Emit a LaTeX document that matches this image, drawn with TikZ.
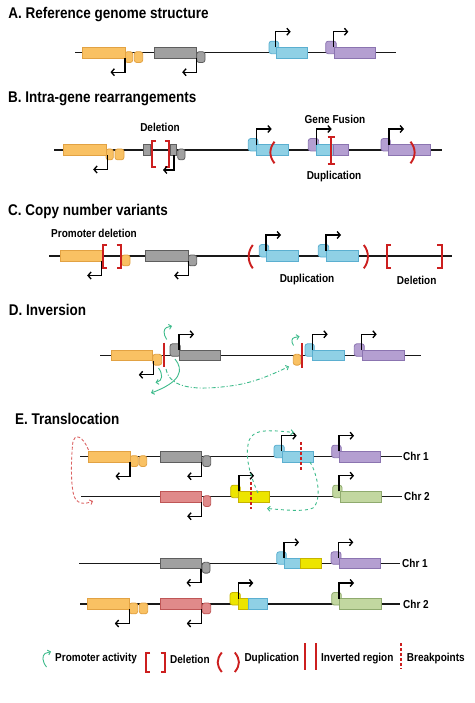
\documentclass[tikz,border=0pt]{standalone}
\usepackage{fontspec}
\newfontfamily\lab[FakeStretch=0.87]{Liberation Sans}
\usetikzlibrary{arrows.meta}
\definecolor{orF}{HTML}{F9C163}
\definecolor{orD}{HTML}{E2A243}
\definecolor{grF}{HTML}{A0A0A0}
\definecolor{grD}{HTML}{5E5E5E}
\definecolor{blF}{HTML}{8FD0E5}
\definecolor{blD}{HTML}{5BAFD0}
\definecolor{puF}{HTML}{B49FD1}
\definecolor{puD}{HTML}{8B74B0}
\definecolor{rdF}{HTML}{E08A8A}
\definecolor{rdD}{HTML}{BF5656}
\definecolor{yeF}{HTML}{EDE500}
\definecolor{yeD}{HTML}{C6B300}
\definecolor{gnF}{HTML}{C2D7A0}
\definecolor{gnD}{HTML}{8FAA6E}
\definecolor{redM}{HTML}{CC1F1F}
\definecolor{grA}{HTML}{3DBB8B}
\tikzset{
  bx/.style={line width=0.8pt},
  orb/.style={bx,fill=orF,draw=orD},
  grb/.style={bx,fill=grF,draw=grD},
  blb/.style={bx,fill=blF,draw=blD},
  pub/.style={bx,fill=puF,draw=puD},
  rdb/.style={bx,fill=rdF,draw=rdD},
  yeb/.style={bx,fill=yeF,draw=yeD},
  gnb/.style={bx,fill=gnF,draw=gnD},
  parr/.style={line width=1.35pt,-{Straight Barb[length=3pt,width=7pt]}},
  redm/.style={draw=redM,line width=1.9pt},
  brk/.style={draw=redM,line width=1.6pt,dash pattern=on 3pt off 2pt},
  garr/.style={draw=grA,line width=0.9pt,-{Straight Barb[length=2.5pt,width=5pt]}},
  rarr/.style={draw=redM!70,line width=0.9pt,dash pattern=on 3pt off 2pt,-{Straight Barb[length=2.5pt,width=5pt]}},
  chrom/.style={line width=1.1pt,black!90},
  ttl/.style={anchor=base west,font=\lab\bfseries\fontsize{15.5}{18}\selectfont,inner sep=0pt},
  lbl/.style={font=\lab\bfseries\fontsize{11.5}{13}\selectfont,inner sep=0pt},
}
\newcommand\GB[4]{\draw[#1] (#2,#4-5.3) rectangle (#3,#4+5.3);}
\newcommand\TD[4]{\draw[#1,rounded corners=2.5pt] (#2,#4-1) rectangle (#3,#4+9.8);}
\newcommand\TU[4]{\draw[#1,rounded corners=2.5pt] (#2,#4-11.5) rectangle (#3+2,#4+1);}
\newcommand\PL[2]{\draw[parr] (#1,#2+5.3) -- (#1,#2+19.5) -- (#1-14.5,#2+19.5);}
\newcommand\PR[2]{\draw[parr] (#1,#2-5.3) -- (#1,#2-21) -- (#1+15,#2-21);}
\newcommand\BRL[3]{\draw[redm] (#1+4.5,#2) -- (#1,#2) -- (#1,#3) -- (#1+4.5,#3);}
\newcommand\BRR[3]{\draw[redm] (#1-4.5,#2) -- (#1,#2) -- (#1,#3) -- (#1-4.5,#3);}
\newcommand\PAL[3]{\draw[redm] (#1+4.5,#2) .. controls (#1-1,#2+7) and (#1-1,#3-7) .. (#1+4.5,#3);}
\newcommand\PAR[3]{\draw[redm] (#1-4.5,#2) .. controls (#1+1,#2+7) and (#1+1,#3-7) .. (#1-4.5,#3);}
\begin{document}
\begin{tikzpicture}[x=1pt,y=-1pt]
\useasboundingbox (0,0) rectangle (474,703);

% ---------- A ----------
\node[ttl] (tA) at (8.3,18.3) {A. Reference genome structure};
\draw[chrom] (75,52.7) -- (396,52.7);
\TU{blb}{269}{276.7}{52.7}
\TU{pub}{325.7}{334.3}{52.7}
\TD{orb}{125}{132.7}{52.7}
\TD{orb}{134.3}{142.7}{52.7}
\TD{grb}{196.7}{205}{52.7}
\GB{orb}{82.7}{125}{52.7}
\GB{grb}{154.3}{196.7}{52.7}
\GB{blb}{276.7}{307.7}{52.7}
\GB{pub}{334.3}{375.7}{52.7}
\PL{125}{52.7}
\PL{196.7}{52.7}
\PR{275.7}{52.7}
\PR{333.3}{52.7}

% ---------- B ----------
\node[ttl] (tB) at (8,102.3) {B. Intra-gene rearrangements};
\draw[chrom] (54.3,150) -- (441.7,150);
\TU{blb}{248.3}{256}{150}
\TU{pub}{308.3}{316.7}{150}
\TU{pub}{381}{388.3}{150}
\TD{orb}{106}{113.3}{150}
\TD{orb}{115}{124}{150}
\TD{grb}{177.7}{185}{150}
\GB{orb}{63.3}{106}{150}
\GB{grb}{143.3}{150}{150}
\GB{grb}{170}{176.7}{150}
\GB{blb}{256}{288.3}{150}
\GB{blb}{316.7}{333.3}{150}
\GB{pub}{333.3}{348.3}{150}
\GB{pub}{388.3}{430}{150}
\BRL{151.7}{140.7}{166.7}
\BRR{169.3}{140.7}{166.7}
\PAL{270}{141.7}{163.3}
\draw[redm] (331,137.3) -- (331,164) (327.5,137.3) -- (334.5,137.3) (327.5,164) -- (334.5,164);
\PAR{415}{141.7}{163.3}
\PL{107.7}{150}
\draw[parr] (174,155.3) -- (174,170) -- (163,170);
\PR{256.7}{150}
\PR{316.7}{150}
\PR{389}{150}
\node[lbl] (lB1) at (160,127) {Deletion};
\node[lbl] (lB2) at (335,119) {Gene Fusion};
\node[lbl] (lB3) at (334,177) {Duplication};

% ---------- C ----------
\node[ttl] (tC) at (8,215.7) {C. Copy number variants};
\draw[chrom] (49.3,256) -- (451.7,256);
\TU{blb}{259.3}{266.7}{256}
\TU{blb}{318.3}{326.7}{256}
\TD{orb}{121.7}{130}{256}
\TD{grb}{188.3}{196.7}{256}
\GB{orb}{60}{102.7}{256}
\GB{grb}{145.7}{188.3}{256}
\GB{blb}{266.7}{298.3}{256}
\GB{blb}{326.7}{358.3}{256}
\BRL{102.7}{245}{268.3}
\BRR{121.2}{245}{268.3}
\PAL{248.3}{245}{268.3}
\PAR{368.3}{245}{268.3}
\BRL{386.7}{245}{268.3}
\BRR{441.7}{245}{268.3}
\PL{101.7}{256}
\PL{188.7}{256}
\PR{266}{256}
\PR{326}{256}
\node[lbl] (lC1) at (94,233.3) {Promoter deletion};
\node[lbl] (lC2) at (307,280) {Duplication};
\node[lbl] (lC3) at (416.7,280) {Deletion};

% ---------- D ----------
\node[ttl] (tD) at (8.7,315) {D. Inversion};
\draw[chrom] (100,355.3) -- (421,355.3);
\TU{grb}{170}{178.3}{355.3}
\TU{blb}{305}{312.3}{355.3}
\TU{pub}{354.3}{362.3}{355.3}
\TD{orb}{152.7}{161.7}{355.3}
\TD{orb}{293.3}{300.7}{355.3}
\GB{orb}{111}{152.7}{355.3}
\GB{grb}{179.3}{220.7}{355.3}
\GB{blb}{312.3}{344.3}{355.3}
\GB{pub}{362.3}{404.3}{355.3}
\draw[redm] (164.3,342.7) -- (164.3,366.7);
\draw[redm] (301.7,343.3) -- (301.7,368.3);
\PL{153.3}{355.3}
\PR{179}{355.3}
\PR{312.7}{355.3}
\PR{361.7}{355.3}
\draw[garr] (166.7,339.5) .. controls (163,334) and (163.5,329) .. (166.5,327.5) -- (172,326);
\draw[garr] (293.5,345.5) .. controls (291,342) and (291.5,338) .. (294.5,337.5) -- (299.5,336.5);
\draw[garr] (158.5,368) .. controls (163,374) and (163,381) .. (155.5,382.5);
\draw[garr] (175,359) .. controls (184,370) and (181,382) .. (151,393);
\draw[garr,dash pattern=on 4pt off 2pt on 1pt off 2pt] (166,369) .. controls (170,390) and (200,390) .. (230,386) .. controls (255,383) and (275,373) .. (289,366.5);

% ---------- E (before) ----------
\node[ttl] (tE) at (15,424.3) {E. Translocation};
\draw[chrom] (80,456.7) -- (401.7,456.7);
\draw[chrom] (81,496.7) -- (401.7,496.7);
\node[lbl,anchor=west] (c1a) at (403,456.7) {Chr 1};
\node[lbl,anchor=west] (c2a) at (404,496.7) {Chr 2};
\TU{blb}{274}{282.3}{456.7}
\TU{pub}{331.7}{339.3}{456.7}
\TD{orb}{130}{138.3}{456.7}
\TD{orb}{139.3}{146.7}{456.7}
\TD{grb}{202.7}{210.7}{456.7}
\GB{orb}{88.3}{130}{456.7}
\GB{grb}{160.7}{201.7}{456.7}
\GB{blb}{282.3}{313.3}{456.7}
\GB{pub}{339.3}{380.7}{456.7}
\draw[brk] (301,442.3) -- (301,470);
\PL{130}{456.7}
\PL{201.7}{456.7}
\PR{281.7}{456.7}
\PR{339}{456.7}
\TU{yeb}{230.7}{238.3}{496.7}
\TU{gnb}{332.7}{340}{496.7}
\TD{rdb}{203.3}{210.7}{496.7}
\GB{rdb}{160.7}{201.7}{496.7}
\GB{yeb}{238.3}{269.3}{496.7}
\GB{gnb}{340}{381.7}{496.7}
\draw[brk] (250.7,482.3) -- (250.7,509);
\PL{201.7}{496.7}
\PR{239}{496.7}
\PR{339}{496.7}
\draw[rarr] (88.5,450) .. controls (84,438) and (74,430) .. (72.5,445) .. controls (71,465) and (71,480) .. (73,492) .. controls (75,506) and (86,504) .. (93,501);
\draw[garr,dashed] (258,493) .. controls (252,480) and (245,460) .. (248,445) .. controls (250,430) and (262,429) .. (294,432.5);
\draw[garr,dashed] (310,462) .. controls (318,475) and (322,500) .. (313,508) .. controls (305,512) and (285,510) .. (267,508.5);

% ---------- E (after) ----------
\draw[chrom] (79.3,563.3) -- (400,563.3);
\draw[chrom] (80,604) -- (400,604);
\node[lbl,anchor=west] (c1b) at (402,563.3) {Chr 1};
\node[lbl,anchor=west] (c2b) at (403,604) {Chr 2};
\TU{blb}{276.7}{284.3}{563.3}
\TU{pub}{331}{339}{563.3}
\TD{grb}{202.3}{210}{563.3}
\GB{grb}{160}{201}{563.3}
\GB{blb}{284.3}{300}{563.3}
\GB{yeb}{300}{321}{563.3}
\GB{pub}{339}{380.7}{563.3}
\PL{201}{563.3}
\PR{284}{563.3}
\PR{338.3}{563.3}
\TU{yeb}{230}{238.3}{604}
\TU{gnb}{331.7}{339.3}{604}
\TD{orb}{129.3}{137.7}{604}
\TD{orb}{139.3}{147.7}{604}
\TD{rdb}{202.3}{210.7}{604}
\GB{orb}{87.7}{129.3}{604}
\GB{rdb}{160}{201}{604}
\GB{yeb}{238.3}{248.3}{604}
\GB{blb}{248.3}{267.3}{604}
\GB{gnb}{339.3}{381.7}{604}
\PL{129.3}{604}
\PL{201.3}{604}
\PR{238.3}{604}
\PR{339}{604}

% ---------- Legend ----------
\draw[garr] (46.5,667) .. controls (42,661) and (42,656) .. (45,653.5) -- (51,651.5);
\node[lbl,anchor=west] (g1) at (55,659) {Promoter activity};
\BRL{145.7}{653.3}{671.7}
\BRR{165}{653.3}{671.7}
\node[lbl,anchor=west] (g2) at (170,659) {Deletion};
\PAL{217.3}{652.5}{672}
\PAR{239.3}{652.5}{672}
\node[lbl,anchor=west] (g3) at (244.3,659) {Duplication};
\draw[redm] (305,643.3) -- (305,670) (316,643.3) -- (316,670);
\node[lbl,anchor=west] (g4) at (321,659) {Inverted region};
\draw[brk,line width=1.8pt] (401.2,643.3) -- (401.2,669.3);
\node[lbl,anchor=west] (g5) at (406.7,659) {Breakpoints};
\end{tikzpicture}
\end{document}
